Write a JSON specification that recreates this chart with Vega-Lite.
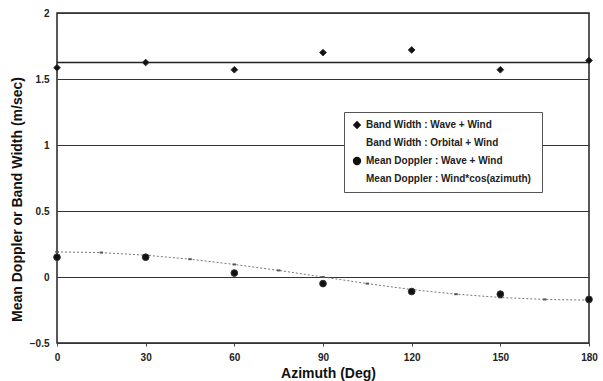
{
  "$schema": "https://vega.github.io/schema/vega-lite/v6.json",
  "autosize": {"type": "none"},
  "width": 532,
  "height": 330,
  "padding": {"left": 57, "top": 13, "right": 14, "bottom": 38},
  "background": "white",
  "config": {
    "view": {"stroke": "#222", "strokeWidth": 1.5},
    "font": "Liberation Sans"
  },
  "data": {
    "values": [
      {"az": 0, "value": 1.585, "series": "Band Width : Wave + Wind"},
      {"az": 30, "value": 1.625, "series": "Band Width : Wave + Wind"},
      {"az": 60, "value": 1.57, "series": "Band Width : Wave + Wind"},
      {"az": 90, "value": 1.70, "series": "Band Width : Wave + Wind"},
      {"az": 120, "value": 1.72, "series": "Band Width : Wave + Wind"},
      {"az": 150, "value": 1.57, "series": "Band Width : Wave + Wind"},
      {"az": 180, "value": 1.64, "series": "Band Width : Wave + Wind"},
      {"az": 0, "value": 1.625, "series": "Band Width : Orbital + Wind"},
      {"az": 180, "value": 1.625, "series": "Band Width : Orbital + Wind"},
      {"az": 0, "value": 0.15, "series": "Mean Doppler :  Wave + Wind"},
      {"az": 30, "value": 0.15, "series": "Mean Doppler :  Wave + Wind"},
      {"az": 60, "value": 0.03, "series": "Mean Doppler :  Wave + Wind"},
      {"az": 90, "value": -0.05, "series": "Mean Doppler :  Wave + Wind"},
      {"az": 120, "value": -0.11, "series": "Mean Doppler :  Wave + Wind"},
      {"az": 150, "value": -0.13, "series": "Mean Doppler :  Wave + Wind"},
      {"az": 180, "value": -0.17, "series": "Mean Doppler :  Wave + Wind"},
      {"az": 0, "value": 0.19, "series": "Mean Doppler :  Wind*cos(azimuth)"},
      {"az": 15, "value": 0.185, "series": "Mean Doppler :  Wind*cos(azimuth)"},
      {"az": 30, "value": 0.165, "series": "Mean Doppler :  Wind*cos(azimuth)"},
      {"az": 45, "value": 0.135, "series": "Mean Doppler :  Wind*cos(azimuth)"},
      {"az": 60, "value": 0.095, "series": "Mean Doppler :  Wind*cos(azimuth)"},
      {"az": 75, "value": 0.05, "series": "Mean Doppler :  Wind*cos(azimuth)"},
      {"az": 90, "value": 0.0, "series": "Mean Doppler :  Wind*cos(azimuth)"},
      {"az": 105, "value": -0.05, "series": "Mean Doppler :  Wind*cos(azimuth)"},
      {"az": 120, "value": -0.095, "series": "Mean Doppler :  Wind*cos(azimuth)"},
      {"az": 135, "value": -0.13, "series": "Mean Doppler :  Wind*cos(azimuth)"},
      {"az": 150, "value": -0.155, "series": "Mean Doppler :  Wind*cos(azimuth)"},
      {"az": 165, "value": -0.17, "series": "Mean Doppler :  Wind*cos(azimuth)"},
      {"az": 180, "value": -0.175, "series": "Mean Doppler :  Wind*cos(azimuth)"}
    ]
  },
  "encoding": {
    "x": {
      "field": "az", "type": "quantitative",
      "scale": {"domain": [0, 180], "nice": false},
      "axis": {
        "values": [0, 30, 60, 90, 120, 150, 180],
        "title": "Azimuth (Deg)",
        "titleFont": "Liberation Sans", "titleFontSize": 14, "titleFontWeight": "bold", "titleColor": "#111",
        "titleX": 271, "titleY": 34, "titleBaseline": "alphabetic", "titleAnchor": "middle",
        "labelFont": "Liberation Sans", "labelFontSize": 10, "labelFontWeight": "bold", "labelColor": "#222",
        "labelPadding": 6,
        "grid": false, "domain": false, "ticks": true, "tickSize": 3, "tickColor": "#444",
        "labelFlush": false
      }
    },
    "y": {
      "field": "value", "type": "quantitative",
      "scale": {"domain": [-0.5, 2], "nice": false, "zero": false},
      "axis": {
        "values": [-0.5, 0, 0.5, 1, 1.5, 2],
        "format": "~g",
        "title": "Mean Doppler or Band Width (m/sec)",
        "titleFont": "Liberation Sans", "titleFontSize": 14, "titleFontWeight": "bold", "titleColor": "#111",
        "titleX": -33, "titleY": 186, "titleBaseline": "bottom", "titleAnchor": "middle", "titleAngle": 270,
        "labelFont": "Liberation Sans", "labelFontSize": 10, "labelFontWeight": "bold", "labelColor": "#222",
        "labelPadding": 8,
        "grid": true, "gridColor": "#333", "gridWidth": 1, "gridOpacity": 1,
        "domain": false, "ticks": false
      }
    }
  },
  "layer": [
    {
      "transform": [{"filter": "datum.series === 'Band Width : Orbital + Wind'"}],
      "mark": {"type": "line", "color": "#222", "strokeWidth": 1.3}
    },
    {
      "transform": [{"filter": "datum.series === 'Mean Doppler :  Wind*cos(azimuth)'"}],
      "mark": {"type": "line", "color": "#777", "strokeWidth": 1, "strokeDash": [2, 2], "point": {"shape": "stroke", "size": 12, "color": "#555", "filled": false}}
    },
    {
      "transform": [{"filter": "datum.series === 'Band Width : Wave + Wind' || datum.series === 'Mean Doppler :  Wave + Wind'"}],
      "mark": {"type": "point", "filled": true, "fill": "#111", "stroke": "#333", "strokeWidth": 1, "opacity": 1, "size": 45},
      "encoding": {
        "shape": {
          "field": "series", "type": "nominal",
          "scale": {
            "domain": ["Band Width : Wave + Wind", "Band Width : Orbital + Wind", "Mean Doppler :  Wave + Wind", "Mean Doppler :  Wind*cos(azimuth)"],
            "range": ["diamond", "stroke", "circle", "M-1,0L1,0M0,-0.3L0,0.3"]
          },
          "legend": {
            "title": null,
            "orient": "none",
            "legendX": 287,
            "legendY": 99,
            "padding": 8,
            "strokeColor": "#555",
            "fillColor": "white",
            "labelFont": "Liberation Sans", "labelFontSize": 10, "labelFontWeight": "bold", "labelColor": "#222",
            "symbolSize": 70,
            "symbolFillColor": "#111",
            "symbolStrokeColor": "#333",
            "symbolStrokeWidth": 1,
            "rowPadding": 6,
            "labelLimit": 220
          }
        }
      }
    }
  ]
}
